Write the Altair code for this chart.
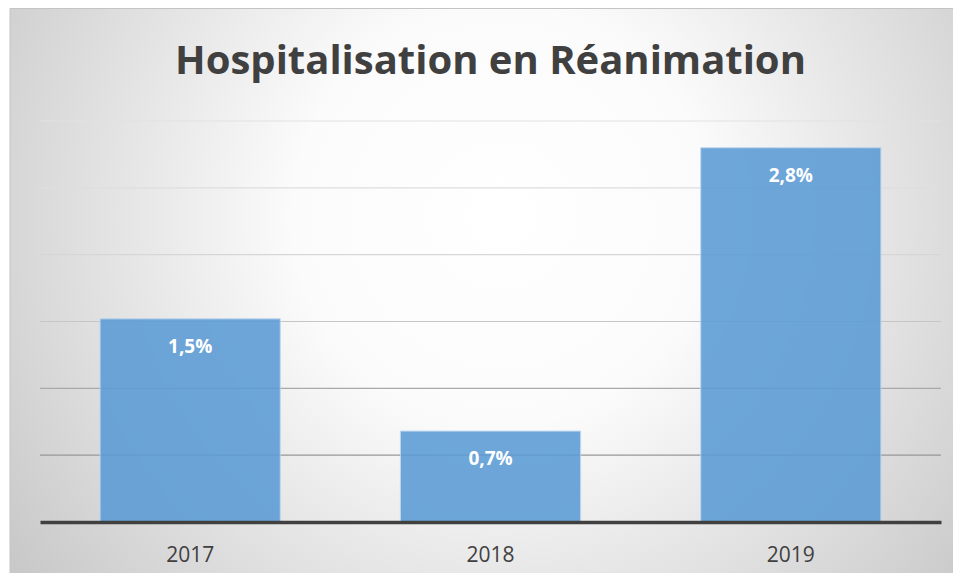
import altair as alt
import pandas as pd

years = ["2017", "2018", "2019"]
values = [1.52, 0.68, 2.80]
labels = ["1,5%", "0,7%", "2,8%"]
grid_values = [0.5, 1.0, 1.5, 2.0, 2.5, 3.0]
grid_colors = ["#979797", "#a9a9a9", "#c6c6c6", "#d6d6d6", "#dedede", "#e2e2e2"]

df = pd.DataFrame({"year": years, "value": values, "label": labels})
gdf = pd.DataFrame({"v": grid_values})
bg = pd.DataFrame({"k": [0]})

W, H = 901, 401
yscale = alt.Scale(domain=[0, 3], nice=False, zero=True)
xscale = alt.Scale(paddingInner=0.4, paddingOuter=0.2)

background = alt.Chart(bg).mark_rect(
    fill={
        "gradient": "radial",
        "x1": 0.52, "y1": 0.42, "r1": 0,
        "x2": 0.52, "y2": 0.42, "r2": 0.63,
        "stops": [
            {"offset": 0, "color": "#ffffff"},
            {"offset": 0.35, "color": "#fbfbfb"},
            {"offset": 1, "color": "#c9c9c9"},
        ],
    },
    stroke="#c4c4c4",
    strokeWidth=1,
).encode(
    x=alt.value(-30), x2=alt.value(W + 14),
    y=alt.value(-112.5), y2=alt.value(H + 53),
)

grid = alt.Chart(gdf).mark_rule(strokeWidth=1.2).encode(
    y=alt.Y("v:Q", scale=yscale, axis=None),
    color=alt.Color("v:Q", scale=alt.Scale(domain=grid_values, range=grid_colors), legend=None),
)

bars = alt.Chart(df).mark_bar(
    color="#5b9bd5", opacity=0.88, stroke="#b8d4ee", strokeWidth=1
).encode(
    x=alt.X("year:N", scale=xscale, sort=years, title=None,
            axis=alt.Axis(labelAngle=0, labelFont="Open Sans", labelFontSize=21,
                          labelColor="#404040", ticks=False, tickSize=0,
                          labelPadding=33, labelBaseline="middle",
                          domainColor="#404040", domainWidth=3.5, grid=False,
                          zindex=1)),
    y=alt.Y("value:Q", scale=yscale, axis=None),
)

text = alt.Chart(df).mark_text(
    font="Open Sans", fontSize=19, fontWeight="bold", color="white",
    baseline="middle", dy=28,
).encode(
    x=alt.X("year:N", scale=xscale, sort=years),
    y=alt.Y("value:Q", scale=yscale),
    text="label:N",
)

chart = alt.layer(background, grid, bars, text).properties(
    width=W, height=H,
    title=alt.TitleParams(
        "Hospitalisation en Réanimation", font="Open Sans", fontSize=40,
        fontWeight="bold", color="#404040", anchor="middle", frame="group",
        baseline="alphabetic", offset=-106, zindex=1,
    ),
    autosize=alt.AutoSizeParams(type="none"),
    padding={"left": 32, "top": 113, "right": 12, "bottom": 51},
).configure_view(stroke=None).configure(background="white")

chart.save("out.html", embed_options={"renderer": "svg", "actions": False})
